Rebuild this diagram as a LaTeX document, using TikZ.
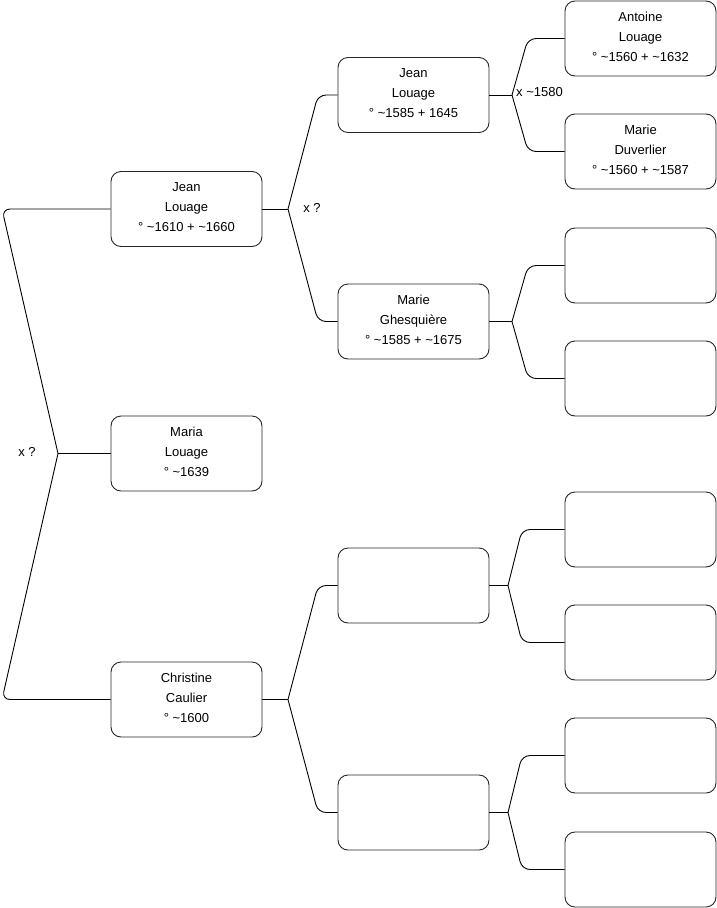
\documentclass[tikz,border=0pt]{standalone}
\usepackage{fontspec}
\setmainfont{Liberation Sans}
\begin{document}
\begin{tikzpicture}[x=1pt,y=-1pt,
  person/.style={draw=black!85,line width=0.9pt,rounded corners=10pt,minimum width=151pt,minimum height=75pt,align=center,inner sep=0pt,text depth=4pt,font=\fontsize{13}{20}\selectfont},
  link/.style={draw=black,line width=0.9pt,rounded corners=8pt},
  lab/.style={font=\fontsize{13}{16}\selectfont,inner sep=0pt}]
\useasboundingbox (0,0) rectangle (716,908);
% level 1
\node[person] (j1) at (186.5,209) {Jean\\Louage\\° \textasciitilde1610 + \textasciitilde1660};
\node[person] (m1) at (186.5,453.5) {Maria\\Louage\\° \textasciitilde1639};
\node[person] (c1) at (186.5,699.5) {Christine\\Caulier\\° \textasciitilde1600};
% level 2
\node[person] (j2) at (413.5,95) {Jean\\Louage\\° \textasciitilde1585 + 1645};
\node[person] (g2) at (413.5,321.5) {Marie\\Ghesquière\\° \textasciitilde1585 + \textasciitilde1675};
\node[person] (e2a) at (413.5,585.5) {};
\node[person] (e2b) at (413.5,812.5) {};
% level 3
\node[person] (a3) at (640.5,38.5) {Antoine\\Louage\\° \textasciitilde1560 + \textasciitilde1632};
\node[person] (d3) at (640.5,151.5) {Marie\\Duverlier\\° \textasciitilde1560 + \textasciitilde1587};
\node[person] (e3a) at (640.5,265.5) {};
\node[person] (e3b) at (640.5,378.5) {};
\node[person] (e3c) at (640.5,529.5) {};
\node[person] (e3d) at (640.5,642.5) {};
\node[person] (e3e) at (640.5,755.5) {};
\node[person] (e3f) at (640.5,869.5) {};
% forks
\coordinate (f0) at (58,453.5);
\coordinate (f1) at (288,209);
\coordinate (f2) at (512,95);
\coordinate (f3) at (512,321.5);
\coordinate (f4) at (288,699.5);
\coordinate (f5) at (508,585.5);
\coordinate (f6) at (508,812.5);
% root
\draw[link] (j1.west) -- (2,209) -- (f0);
\draw[link] (f0) -- (m1.west);
\draw[link] (f0) -- (2,699.5) -- (c1.west);
\node[lab] (l0) at (27,452) {x ?};
% Jean level 1
\draw[link] (j1.east) -- (f1);
\draw[link] (f1) -- (318,95) -- (j2.west);
\draw[link] (f1) -- (318,321.5) -- (g2.west);
\node[lab] (l1) at (312,208) {x ?};
% Jean level 2
\draw[link] (j2.east) -- (f2);
\draw[link] (f2) -- (528,38.5) -- (a3.west);
\draw[link] (f2) -- (528,151.5) -- (d3.west);
\node[lab,anchor=west] (l2) at (516,92) {x \textasciitilde1580};
% Ghesquiere
\draw[link] (g2.east) -- (f3);
\draw[link] (f3) -- (528,265.5) -- (e3a.west);
\draw[link] (f3) -- (528,378.5) -- (e3b.west);
% Christine
\draw[link] (c1.east) -- (f4);
\draw[link] (f4) -- (318,585.5) -- (e2a.west);
\draw[link] (f4) -- (318,812.5) -- (e2b.west);
% empty level 2
\draw[link] (e2a.east) -- (f5);
\draw[link] (f5) -- (522,529.5) -- (e3c.west);
\draw[link] (f5) -- (522,642.5) -- (e3d.west);
\draw[link] (e2b.east) -- (f6);
\draw[link] (f6) -- (522,755.5) -- (e3e.west);
\draw[link] (f6) -- (522,869.5) -- (e3f.west);
\end{tikzpicture}
\end{document}
